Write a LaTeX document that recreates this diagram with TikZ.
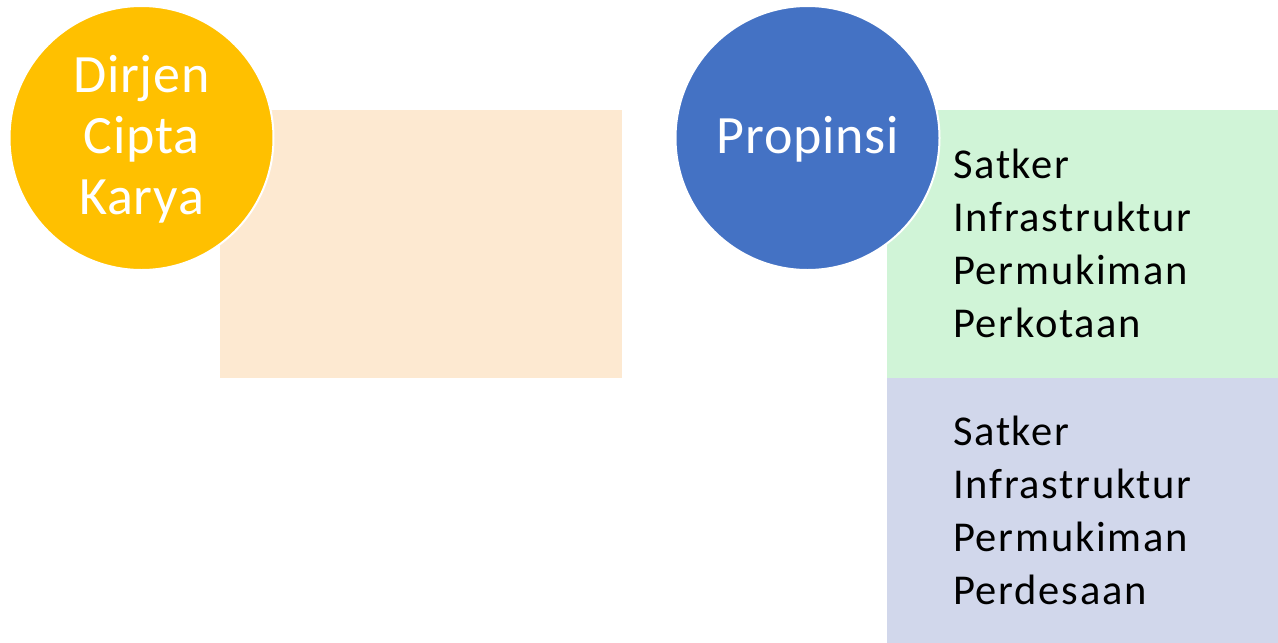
\documentclass[tikz,border=0pt]{standalone}
\usepackage{fontspec}
\setmainfont{Carlito}
\definecolor{cyellow}{HTML}{FFC000}
\definecolor{cblue}{HTML}{4472C4}
\definecolor{cpeach}{HTML}{FDE9D1}
\definecolor{cgreen}{HTML}{D0F4D7}
\definecolor{cpurple}{HTML}{D1D7EB}
\tikzset{
  bigcircle/.style={circle, draw=white, line width=2pt, minimum size=264pt, inner sep=0pt},
  circtext/.style={text=white, align=center, inner sep=0pt, font=\fontsize{54}{61}\selectfont\addfontfeature{LetterSpace=1.5}},
  boxtext/.style={text=black, align=left, inner sep=0pt, anchor=base west, font=\fontsize{42.5}{53}\selectfont\addfontfeature{LetterSpace=4}},
}
\begin{document}
\begin{tikzpicture}[x=1pt,y=-1pt]
\useasboundingbox (0,0) rectangle (1278,643);
\fill[cpeach] (220,110) rectangle (622,378);
\fill[cgreen] (887,110) rectangle (1278,377.5);
\fill[cpurple] (887,377.5) rectangle (1278,643);
\node[bigcircle, fill=cyellow] (dirjen) at (141.5,138) {};
\node[bigcircle, fill=cblue] (propinsi) at (807.5,138) {};
\node[circtext, anchor=base] (dirjentext) at (141.5,214) {Dirjen\\Cipta\\Karya};
\node[circtext, anchor=base] (propinsitext) at (808,153.5) {Propinsi};
\node[boxtext] (kota) at (953,337) {Satker\\Infrastruktur\\Permukiman\\Perkotaan};
\node[boxtext] (desa) at (953,604) {Satker\\Infrastruktur\\Permukiman\\Perdesaan};
\end{tikzpicture}
\end{document}
